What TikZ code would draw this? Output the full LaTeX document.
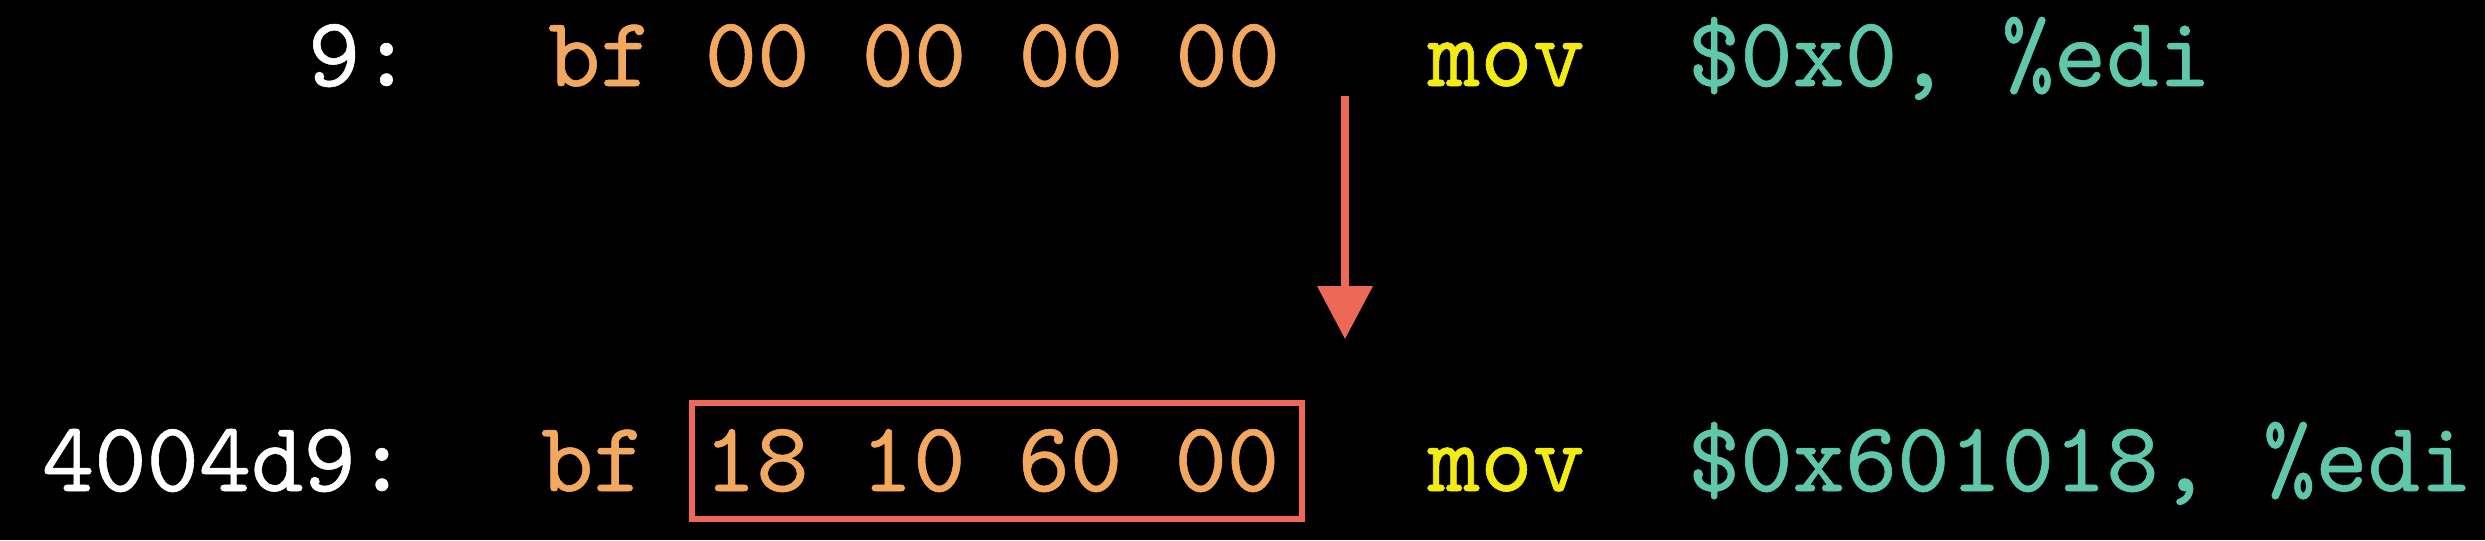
\documentclass[tikz,border=0pt]{standalone}
\usepackage{fontspec}
\setmonofont[FakeBold=0.6]{lmmono10-regular.otf}
\usetikzlibrary{arrows.meta}
\definecolor{addrc}{RGB}{255,255,255}
\definecolor{bytec}{RGB}{243,168,96}
\definecolor{movc}{RGB}{242,236,18}
\definecolor{opc}{RGB}{96,200,170}
\definecolor{hlc}{RGB}{238,104,88}
\begin{document}
\begin{tikzpicture}[x=0.25pt,y=-0.25pt,
  code/.style={inner sep=0pt, outer sep=0pt, anchor=base west,
    font=\fontsize{24.9pt}{30pt}\selectfont\ttfamily},
  addr/.style={code, text=addrc},
  bytes/.style={code, text=bytec},
  opcode/.style={code, text=movc},
  operand/.style={code, text=opc},
  hlbox/.style={draw=hlc, line width=1.5pt, inner sep=0pt,
    minimum width=152.5pt, minimum height=29pt},
  flow/.style={draw=hlc, line width=1.8pt,
    -{Triangle[width=13.5pt, length=13.25pt]}, fill=hlc}]
\fill[black] (0,0) rectangle (2485,540);
\useasboundingbox (0,0) rectangle (2485,540);
% row 1
\node[addr]    (a1) at (308,86)  {9:};
\node[bytes]   (b1) at (548,86)  {bf 00 00 00 00};
\node[opcode]  (m1) at (1428,86) {mov};
\node[operand] (o1) at (1688,86) {\$0x0, \%edi};
% row 2
\node[addr]    (a2) at (42,491)  {4004d9:};
\node[bytes]   (f2) at (541,491) {bf};
\node[bytes]   (b2) at (704,491) {18 10 60 00};
\node[opcode]  (m2) at (1428,491) {mov};
\node[operand] (o2) at (1688,491) {\$0x601018, \%edi};
% highlight box
\node[hlbox] (hl) at (997,461) {};
% arrow
\coordinate (arrS) at (1345,96);
\coordinate (arrE) at (1345,339);
\draw[flow] (arrS) -- (arrE);
\end{tikzpicture}
\end{document}
